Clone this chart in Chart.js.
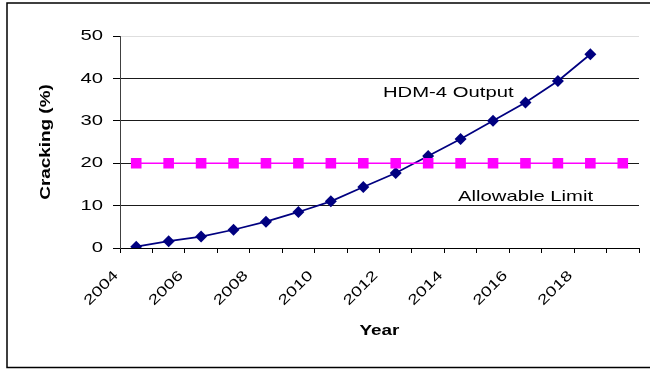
<!DOCTYPE html>
<html>
<head>
<meta charset="utf-8">
<script src="https://cdn.jsdelivr.net/npm/chart.js@4/dist/chart.umd.min.js"></script>
<style>
  html, body { margin: 0; padding: 0; background: #fff; }
  #wrap { position: relative; width: 650px; height: 370px; }
</style>
</head>
<body>
<div id="wrap"><canvas id="c"></canvas></div>
<script>
// Years on the category axis
const years = ['2004','2005','2006','2007','2008','2009','2010','2011',
               '2012','2013','2014','2015','2016','2017','2018','2019'];
// Predicted cracking from HDM-4 (%), 2004-2018
const hdm4Output = [0.3, 1.6, 2.7, 4.3, 6.2, 8.5, 11.0, 14.4, 17.7, 21.7,
                    25.7, 30.0, 34.3, 39.4, 45.7];
// Allowable cracking limit (%)
const allowableLimit = [20, 20, 20, 20, 20, 20, 20, 20, 20, 20, 20, 20, 20, 20, 20, 20];
// Value-axis ticks
const yTicks = [0, 10, 20, 30, 40, 50];

const FONT = "'Liberation Sans', Arial, sans-serif";
const canvas = document.getElementById('c');
const ctx = canvas.getContext('2d');

// Wide lettering: every text run is stretched horizontally about its anchor.
const STRETCH = 1.35;
const rawFill = ctx.fillText.bind(ctx);
const rawMeasure = ctx.measureText.bind(ctx);
ctx.fillText = function (text, x, y) {
  this.save();
  this.translate(x, y);
  this.scale(STRETCH, 1);
  rawFill(text, 0, 0);
  this.restore();
};
ctx.measureText = function (text) {
  const m = rawMeasure(text);
  return {
    width: m.width * STRETCH,
    actualBoundingBoxAscent: m.actualBoundingBoxAscent,
    actualBoundingBoxDescent: m.actualBoundingBoxDescent,
    actualBoundingBoxLeft: m.actualBoundingBoxLeft * STRETCH,
    actualBoundingBoxRight: m.actualBoundingBoxRight * STRETCH
  };
};

// Outer frame and in-plot series captions
const decorations = {
  id: 'decorations',
  beforeDraw(chart) {
    const c = chart.ctx;
    c.save();
    c.fillStyle = '#ffffff';
    c.fillRect(0, 0, chart.width, chart.height);
    c.restore();
  },
  afterDraw(chart) {
    const c = chart.ctx;
    c.save();
    c.strokeStyle = '#000';
    c.lineWidth = 1.5;
    c.strokeRect(7, 3, 700, 364.5);
    c.fillStyle = '#000';
    c.font = '15px ' + FONT;
    c.textAlign = 'left';
    c.textBaseline = 'alphabetic';
    c.fillText('HDM-4 Output', 383, 97);
    c.fillText('Allowable Limit', 458, 201);
    c.restore();
  }
};

new Chart(ctx, {
  type: 'line',
  data: {
    labels: years,
    datasets: [
      {
        label: 'Allowable Limit',
        data: allowableLimit,
        borderColor: '#ff00ff',
        backgroundColor: '#ff00ff',
        borderWidth: 1.5,
        pointStyle: 'rect',
        pointRadius: 7.5,
        pointBorderWidth: 0,
        tension: 0,
        fill: false
      },
      {
        label: 'HDM-4 Output',
        data: hdm4Output,
        borderColor: '#000080',
        backgroundColor: '#000080',
        borderWidth: 1.75,
        pointStyle: 'rectRot',
        pointRadius: 6,
        pointBorderWidth: 0,
        tension: 0,
        fill: false
      }
    ]
  },
  options: {
    responsive: true,
    maintainAspectRatio: false,
    animation: false,
    devicePixelRatio: 1,
    layout: { padding: { left: 0, top: 36, right: 11, bottom: 0 } },
    plugins: {
      legend: { display: false },
      tooltip: { enabled: false }
    },
    scales: {
      x: {
        type: 'category',
        offset: true,
        afterFit(s) { s.height = 122; },
        grid: {
          offset: true,
          drawOnChartArea: false,
          drawTicks: true,
          tickLength: 5,
          color: '#000',
          tickColor: '#000'
        },
        border: { display: true, color: '#000', width: 1 },
        ticks: {
          autoSkip: false,
          minRotation: 45,
          maxRotation: 45,
          padding: 14.5,
          labelOffset: -20,
          color: '#000',
          font: { family: FONT, size: 14 },
          callback(value, index) { return index % 2 === 0 ? years[index] : ''; }
        },
        title: {
          display: true,
          text: 'Year',
          color: '#000',
          font: { family: FONT, size: 14, weight: 'bold' },
          padding: { top: 0, bottom: 30 }
        }
      },
      y: {
        min: 0,
        max: 50,
        afterFit(s) { s.width = 120; },
        afterBuildTicks(s) { s.ticks = yTicks.map(v => ({ value: v })); },
        grid: {
          drawTicks: true,
          tickLength: 7,
          color: (c) => (c.tick && c.tick.value === 50 ? '#dedede' : '#1a1a1a'),
          tickColor: '#000',
          lineWidth: 1
        },
        border: { display: true, color: '#404040', width: 1 },
        ticks: {
          padding: 10,
          color: '#000',
          font: { family: FONT, size: 15 }
        },
        title: {
          display: true,
          text: 'Cracking (%)',
          color: '#000',
          font: { family: FONT, size: 14, weight: 'bold' },
          padding: { top: 38, bottom: 0 }
        }
      }
    }
  },
  plugins: [decorations]
});
</script>
</body>
</html>
